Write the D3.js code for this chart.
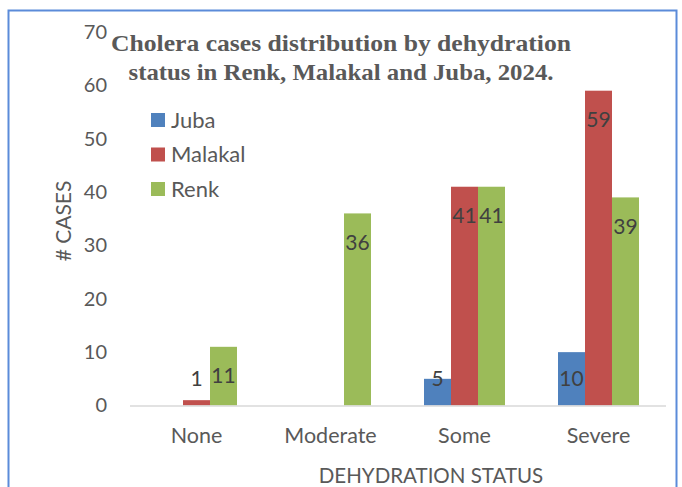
<!DOCTYPE html>
<html>
<head>
<meta charset="utf-8">
<script src="https://cdn.jsdelivr.net/npm/d3@7"></script>
<style>
  html, body { margin: 0; padding: 0; background: #fff; }
  svg text { font-family: Lato, "Open Sans", sans-serif; }
</style>
</head>
<body>
<div id="root"></div>
<script>
const width = 682;
const height = 487;

// data
const categories = ["None", "Moderate", "Some", "Severe"];
const seriesNames = ["Juba", "Malakal", "Renk"];
const juba = [0, 0, 5, 10];
const malakal = [1, 0, 41, 59];
const renk = [11, 36, 41, 39];
const yTicks = [0, 10, 20, 30, 40, 50, 60, 70];
const colors = ["#4F81BD", "#C0504D", "#9BBB59"];

const titleLines = [
	"Cholera cases distribution by dehydration",
	"status in Renk, Malakal and Juba, 2024."
];
const titleWidths = [460, 425];

const rows = categories.map((c, i) => ({
	cat: c,
	values: [juba[i], malakal[i], renk[i]]
}));

const svg = d3.select("#root")
	.append("svg")
		.attr("width", width)
		.attr("height", height);

// outer frame
svg.append("rect")
	.attr("x", 8.5)
	.attr("y", 10.5)
	.attr("width", 668)
	.attr("height", 500)
	.style("fill", "none")
	.style("stroke", "#5B8BD9")
	.style("stroke-width", 2);

const x = d3.scaleBand()
	.domain(categories)
	.range([129.5, 665.5])
	.paddingInner(0.3955)
	.paddingOuter(0.3955 / 2);

const xs = d3.scaleBand()
	.domain(seriesNames)
	.range([0, x.bandwidth()]);

const y = d3.scaleLinear()
	.domain([0, 70])
	.range([405.5, 32]);

// y axis labels
const yAxis = svg.append("g")
	.attr("transform", "translate(107,0)")
	.call(d3.axisLeft(y).tickValues(yTicks).tickSize(0).tickPadding(0));
yAxis.select(".domain").remove();
yAxis.selectAll("text")
	.style("font-size", "20px")
	.style("fill", "#595959");

// bars
const groups = svg.selectAll(".grp")
	.data(rows).enter()
	.append("g")
		.attr("class", "grp")
		.attr("transform", d => `translate(${x(d.cat)},0)`);

groups.selectAll("rect")
	.data(d => d.values.map((v, k) => ({ v, k })))
	.enter()
	.append("rect")
		.attr("x", d => xs(seriesNames[d.k]))
		.attr("y", d => y(d.v))
		.attr("width", xs.bandwidth())
		.attr("height", d => y(0) - y(d.v))
		.style("fill", d => colors[d.k]);

// data labels, skipping zero values
groups.selectAll(".lbl")
	.data(d => d.values.map((v, k) => ({ v, k })).filter(e => e.v > 0))
	.enter()
	.append("text")
		.attr("class", "lbl")
		.attr("x", d => xs(seriesNames[d.k]) + xs.bandwidth() / 2)
		.attr("y", d => Math.min(y(d.v) + 29, 379))
		.attr("dy", "0.35em")
		.attr("text-anchor", "middle")
		.style("font-size", "21px")
		.style("fill", "#404040")
		.text(d => d.v);

// x axis
const xAxis = svg.append("g")
	.attr("transform", `translate(0,${y(0)})`)
	.call(d3.axisBottom(x).tickSize(0).tickPadding(22));
xAxis.select(".domain")
	.style("stroke", "#D9D9D9")
	.style("stroke-width", 1.5);
xAxis.selectAll("text")
	.style("font-size", "21.5px")
	.style("fill", "#595959");

// axis titles
svg.append("text")
	.attr("x", 431)
	.attr("y", 483)
	.attr("text-anchor", "middle")
	.style("font-size", "20.5px")
	.style("fill", "#595959")
	.text("DEHYDRATION STATUS");

svg.append("text")
	.attr("transform", "translate(71,221) rotate(-90)")
	.attr("text-anchor", "middle")
	.style("font-size", "21px")
	.style("fill", "#595959")
	.text("# CASES");

// legend
const legend = svg.selectAll(".leg")
	.data(seriesNames).enter()
	.append("g")
		.attr("class", "leg")
		.attr("transform", (d, i) => `translate(151,${113 + i * 34.5})`);

legend.append("rect")
	.attr("width", 14)
	.attr("height", 14)
	.style("fill", (d, i) => colors[i]);

legend.append("text")
	.attr("x", 20)
	.attr("y", 7)
	.attr("dy", "0.35em")
	.style("font-size", "22px")
	.style("fill", "#595959")
	.text(d => d);

// title
svg.selectAll(".title")
	.data(titleLines).enter()
	.append("text")
		.attr("class", "title")
		.attr("x", 341)
		.attr("y", (d, i) => 51 + i * 29)
		.attr("text-anchor", "middle")
		.attr("textLength", (d, i) => titleWidths[i])
		.attr("lengthAdjust", "spacingAndGlyphs")
		.style("font-family", "'Liberation Serif', serif")
		.style("font-weight", "bold")
		.style("font-size", "24px")
		.style("fill", "#595959")
		.text(d => d);
</script>
</body>
</html>
